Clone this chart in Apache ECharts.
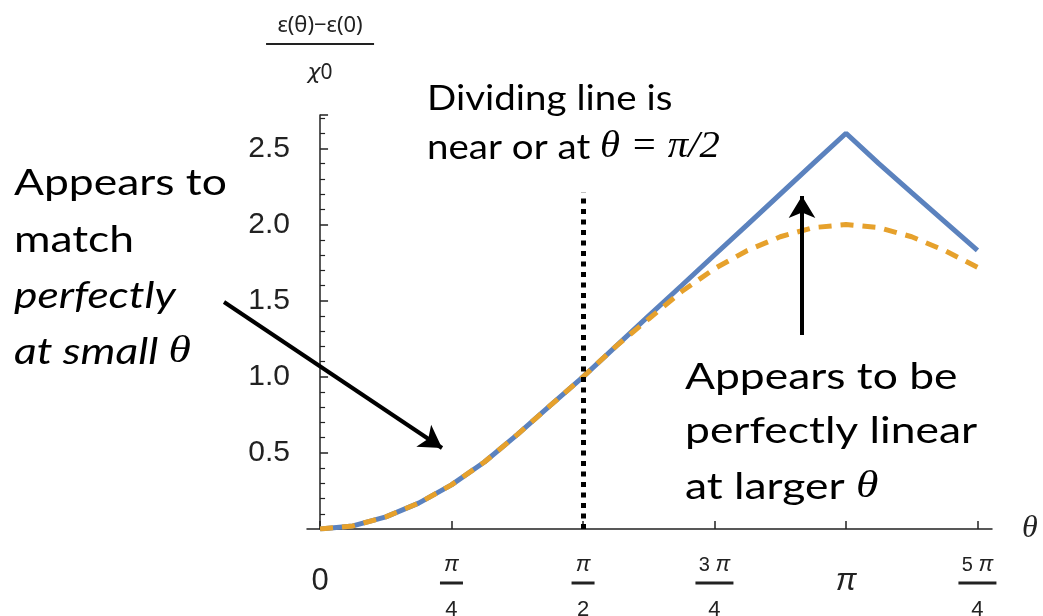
<!DOCTYPE html>
<html>
<head>
<meta charset="utf-8">
<script src="https://cdn.jsdelivr.net/npm/echarts@6/dist/echarts.min.js"></script>
<style>
  html, body { margin: 0; padding: 0; background: #fff; }
  #main { width: 1043px; height: 616px; }
</style>
</head>
<body>
<div id="main"></div>
<script>
// theta sampled every pi/16 from 0 to 5pi/4
const theta = [0, 0.196, 0.393, 0.589, 0.785, 0.982, 1.178, 1.374, 1.571, 1.767, 1.963,
               2.160, 2.356, 2.553, 2.749, 2.945, 3.142, 3.338, 3.534, 3.731, 3.927]
// exact curve (orange dashed)
const exactValues = [0, 0.02, 0.08, 0.17, 0.29, 0.44, 0.62, 0.81, 1.00, 1.20, 1.38,
                     1.56, 1.71, 1.83, 1.92, 1.98, 2.00, 1.98, 1.92, 1.83, 1.72]
// approximation (blue solid)
const approxValues = [0, 0.02, 0.08, 0.17, 0.29, 0.44, 0.62, 0.81, 1.00, 1.20, 1.40,
                      1.60, 1.80, 2.00, 2.20, 2.40, 2.60, 2.40, 2.21, 2.02, 1.83]
const tickValues = [0, 0.785, 1.571, 2.356, 3.142, 3.927]
const tickNum = ['0', 'π', 'π', '3', 'π', '5']
const tickDen = ['', '4', '2', '4', '', '4']
const dividerX = 1.571
const dividerTop = 2.21

let chart = echarts.init(document.querySelector('#main'))

function pairs(ys) {
    let out = []
    for (let i = 0; i < theta.length; i++) out.push([theta[i], ys[i]])
    return out
}

// slide text is a bit stretched sideways
function note(left, top, text, rich, size, sx) {
    return {
        type: 'text', left: left, top: top, scaleX: sx,
        style: { text: text, font: size + 'px Lato', fill: '#000', rich: rich }
    }
}
const thetaRich = function (italic) {
    return {
        a: { font: (italic ? 'italic ' : '') + '37px Lato', fill: '#000' },
        m: { font: 'italic 38px "Liberation Serif"', fill: '#000' }
    }
}

let option = {
    animation: false,
    backgroundColor: '#fff',
    grid: { left: 307, right: 51, top: 115, bottom: 87, outerBoundsMode: 'none', containLabel: false },
    xAxis: {
        type: 'value',
        min: -0.078,
        max: 4.014,
        name: 'θ',
        nameLocation: 'end',
        nameGap: 30,
        nameTextStyle: { fontFamily: 'Liberation Serif', fontStyle: 'italic', fontSize: 32, color: '#222', verticalAlign: 'middle' },
        axisLine: { lineStyle: { color: '#222', width: 1.5 } },
        axisTick: { inside: true, length: 8, customValues: tickValues, lineStyle: { color: '#222', width: 1.5 } },
        splitLine: { show: false },
        axisLabel: {
            customValues: tickValues,
            margin: 25,
            formatter: function (v) {
                let i = 0
                for (let k = 0; k < tickValues.length; k++) {
                    if (Math.abs(tickValues[k] - v) < 0.01) i = k
                }
                if (tickDen[i] === '') {
                    return tickNum[i] === 'π' ? '{bigpi|π}' : '{big|' + tickNum[i] + '}'
                }
                if (tickNum[i] === 'π') return '{pi|π}\n{bar| }\n{d|' + tickDen[i] + '}'
                return '{n|' + tickNum[i] + ' }{pi|π}\n{barw| }\n{d|' + tickDen[i] + '}'
            },
            rich: {
                big: { fontFamily: 'Liberation Sans', fontSize: 31, color: '#222', lineHeight: 54 },
                bigpi: { fontFamily: 'Liberation Sans', fontStyle: 'italic', fontSize: 31, color: '#222', lineHeight: 54 },
                pi: { fontFamily: 'Liberation Sans', fontStyle: 'italic', fontSize: 22, color: '#222', lineHeight: 22 },
                n: { fontFamily: 'Liberation Sans', fontSize: 20, color: '#222', lineHeight: 22 },
                bar: { width: 23, height: 3, backgroundColor: '#222', lineHeight: 14 },
                barw: { width: 38, height: 3, backgroundColor: '#222', lineHeight: 14 },
                d: { fontFamily: 'Liberation Sans', fontSize: 22, color: '#222', lineHeight: 40 }
            }
        }
    },
    yAxis: {
        type: 'value',
        min: 0,
        max: 2.72,
        interval: 0.5,
        name: '{n|ε(θ)−ε(0)}\n{bar| }\n{chi|χ}{d|0}',
        nameLocation: 'end',
        nameGap: 19,
        nameTextStyle: {
            align: 'center',
            verticalAlign: 'bottom',
            fontFamily: 'Noto Sans',
            fontSize: 22,
            color: '#222',
            rich: {
                n: { fontFamily: 'Noto Sans', fontSize: 22, color: '#222', lineHeight: 24, align: 'center' },
                bar: { width: 108, height: 2, backgroundColor: '#222', lineHeight: 12, align: 'center' },
                chi: { fontFamily: 'DejaVu Sans', fontStyle: 'italic', fontSize: 22, color: '#222', lineHeight: 46, verticalAlign: 'middle' },
                d: { fontFamily: 'Noto Sans', fontSize: 21, color: '#222', lineHeight: 46, verticalAlign: 'middle' }
            }
        },
        axisLine: { show: true, lineStyle: { color: '#222', width: 1.5 } },
        axisTick: { inside: true, length: 8, lineStyle: { color: '#222', width: 1.5 } },
        minorTick: { show: true, splitNumber: 5, length: 5, lineStyle: { color: '#222', width: 1.2 } },
        splitLine: { show: false },
        axisLabel: {
            margin: 17,
            fontFamily: 'Liberation Sans',
            fontSize: 30,
            color: '#222',
            formatter: function (v) {
                if (v === 0 || Math.abs(v * 2 - Math.round(v * 2)) > 0.01) return ''
                return v.toFixed(1)
            }
        }
    },
    series: [
        {
            name: 'approx',
            type: 'line',
            data: pairs(approxValues),
            symbol: 'none',
            lineStyle: { color: '#5B82BE', width: 5 },
            z: 2,
            markLine: {
                silent: true,
                symbol: ['none', 'none'],
                label: { show: false },
                lineStyle: { color: '#000', width: 5, type: [5, 5.5] },
                data: [[{ coord: [dividerX, 0] }, { coord: [dividerX, dividerTop] }]]
            }
        },
        {
            name: 'exact',
            type: 'line',
            data: pairs(exactValues),
            symbol: 'none',
            lineStyle: { color: '#E6A12C', width: 5, type: [13, 9] },
            z: 3,
            markLine: {
                silent: true,
                symbol: ['none', 'arrow'],
                symbolSize: [20, 22],
                label: { show: false },
                lineStyle: { color: '#000', width: 4, type: 'solid' },
                data: [
                    [{ x: 224, y: 302 }, { x: 442, y: 448 }],
                    [{ x: 802, y: 335 }, { x: 802, y: 196 }]
                ]
            }
        }
    ],
    graphic: [
        note(427, 81, 'Dividing line is', null, 35, 1.1),
        note(427, 129, '{a|near or at }{m|θ = π/2}', {
            a: { font: '35px Lato', fill: '#000' },
            m: { font: 'italic 37px "Liberation Serif"', fill: '#000' }
        }, 35, 1.1),
        note(14, 165, 'Appears to', null, 37, 1.2),
        note(14, 222, 'match', null, 37, 1.2),
        note(14, 278, '{a|perfectly}', thetaRich(true), 37, 1.2),
        note(14, 333, '{a|at small }{m|θ}', thetaRich(true), 37, 1.2),
        note(685, 359, 'Appears to be', null, 37, 1.2),
        note(685, 413, 'perfectly linear', null, 37, 1.2),
        note(685, 468, '{a|at larger }{m|θ}', thetaRich(false), 37, 1.2)
    ]
}

chart.setOption(option)
</script>
</body>
</html>
